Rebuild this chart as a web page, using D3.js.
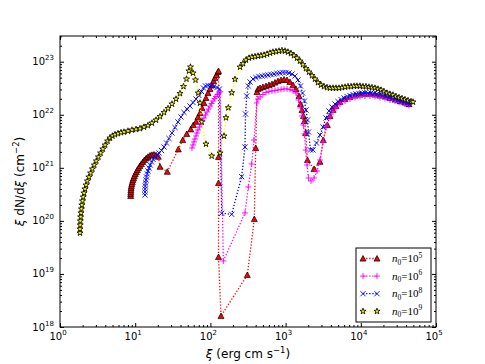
<!DOCTYPE html>
<html>
<head>
<meta charset="utf-8">
<script src="https://cdn.jsdelivr.net/npm/d3@7"></script>
<style>
  body { margin: 0; background: #fff; }
  svg { display: block; }
</style>
</head>
<body>
<svg id="chart" width="485" height="364"></svg>
<script>
// values are log10(xi) and log10(xi dN/dxi)
var n5LogXi = [0.940,0.940,0.942,0.943,0.945,0.949,0.955,0.961,0.969,0.979,0.989,1.001,1.015,1.029,1.045,1.062,1.081,1.101,1.122,1.145,1.170,1.197,1.223,1.250,1.277,1.307,1.330,1.427,1.573,1.632,1.685,1.738,1.773,1.809,1.835,1.862,1.888,1.915,1.941,1.968,1.995,2.021,2.041,2.061,2.081,2.101,2.108,2.108,2.108,2.108,2.141,2.491,2.584,2.602,2.620,2.633,2.660,2.699,2.739,2.779,2.819,2.859,2.899,2.939,2.979,3.019,3.058,3.098,3.138,3.178,3.198,3.218,3.238,3.251,3.267,3.291,3.378,3.457,3.501,3.555,3.590,3.630,3.670,3.723,3.790,3.856,3.923,3.989,4.056,4.122,4.189,4.255,4.322,4.388,4.455,4.521,4.588,4.641];
var n5LogN = [20.469,20.507,20.544,20.582,20.620,20.657,20.695,20.733,20.771,20.808,20.846,20.884,20.921,20.959,20.997,21.034,21.072,21.110,21.147,21.179,21.208,21.232,21.245,21.251,21.238,21.210,21.021,20.927,21.349,21.524,21.637,21.726,21.807,21.869,21.958,22.033,22.128,22.222,22.316,22.410,22.486,22.561,22.636,22.693,22.749,22.806,22.825,21.204,20.714,19.319,18.207,18.980,20.035,21.374,22.429,22.486,22.504,22.523,22.542,22.561,22.580,22.608,22.636,22.655,22.665,22.655,22.618,22.561,22.486,22.354,22.203,22.090,21.977,21.882,21.656,21.147,20.978,21.115,21.524,21.807,21.977,22.090,22.165,22.241,22.297,22.335,22.363,22.382,22.391,22.391,22.382,22.363,22.344,22.316,22.288,22.259,22.231,22.203];

var n6LogXi = [1.755,1.769,1.782,1.795,1.809,1.822,1.835,1.855,1.875,1.895,1.915,1.935,1.955,1.975,1.995,2.015,2.035,2.055,2.074,2.094,2.114,2.132,2.172,2.460,2.504,2.549,2.580,2.616,2.633,2.660,2.699,2.739,2.779,2.819,2.859,2.899,2.939,2.979,3.019,3.058,3.098,3.138,3.172,3.198,3.218,3.236,3.251,3.267,3.285,3.305,3.338,3.378,3.418,3.457,3.497,3.537,3.590,3.630,3.670,3.723,3.790,3.856,3.923,3.989,4.056,4.122,4.189,4.255,4.322,4.388,4.455,4.521,4.588,4.641];
var n6LogN = [21.374,21.430,21.487,21.543,21.600,21.656,21.713,21.769,21.826,21.882,21.939,21.996,22.052,22.108,22.165,22.212,22.259,22.307,22.344,22.382,22.410,22.429,19.244,20.149,20.639,21.072,21.524,22.222,22.297,22.335,22.382,22.420,22.438,22.448,22.457,22.467,22.476,22.486,22.486,22.476,22.457,22.410,22.278,22.128,21.977,21.807,21.637,21.336,21.053,20.808,20.752,20.808,20.940,21.147,21.487,21.788,21.958,22.052,22.128,22.203,22.259,22.297,22.325,22.344,22.354,22.354,22.344,22.325,22.307,22.278,22.259,22.231,22.203,22.175];

var n8LogXi = [1.130,1.130,1.132,1.134,1.138,1.144,1.150,1.160,1.170,1.184,1.199,1.218,1.239,1.263,1.290,1.316,1.350,1.383,1.416,1.449,1.489,1.529,1.569,1.609,1.649,1.689,1.729,1.769,1.809,1.848,1.882,1.908,1.935,1.968,2.008,2.048,2.088,2.121,2.150,2.283,2.416,2.460,2.467,2.483,2.504,2.527,2.567,2.606,2.646,2.686,2.726,2.766,2.806,2.846,2.886,2.926,2.965,3.005,3.045,3.085,3.125,3.165,3.198,3.225,3.251,3.271,3.291,3.305,3.331,3.364,3.411,3.457,3.497,3.537,3.577,3.617,3.657,3.697,3.737,3.777,3.817,3.856,3.896,3.936,3.976,4.016,4.056,4.096,4.136,4.176,4.215,4.255,4.295,4.335,4.375,4.415,4.455,4.495,4.535,4.575,4.614,4.648];
var n8LogN = [20.488,20.544,20.601,20.657,20.714,20.771,20.827,20.884,20.940,20.997,21.053,21.110,21.157,21.204,21.242,21.279,21.326,21.392,21.468,21.553,21.656,21.760,21.864,21.958,22.043,22.108,22.165,22.231,22.297,22.363,22.438,22.504,22.542,22.552,22.542,22.533,22.514,22.486,20.143,20.124,20.833,21.392,22.014,22.354,22.542,22.618,22.674,22.702,22.721,22.731,22.740,22.749,22.759,22.768,22.778,22.787,22.797,22.797,22.787,22.768,22.731,22.655,22.542,22.410,22.259,22.090,21.901,21.675,21.336,21.336,21.468,21.619,21.769,21.939,22.071,22.146,22.203,22.250,22.288,22.316,22.344,22.363,22.382,22.391,22.401,22.410,22.410,22.410,22.410,22.401,22.391,22.382,22.363,22.344,22.325,22.307,22.288,22.269,22.250,22.231,22.212,22.193];

var n9LogXi = [0.266,0.266,0.269,0.271,0.275,0.279,0.285,0.291,0.299,0.309,0.319,0.332,0.347,0.364,0.384,0.407,0.431,0.456,0.483,0.511,0.540,0.570,0.601,0.633,0.665,0.698,0.731,0.771,0.811,0.851,0.904,0.957,1.011,1.064,1.117,1.170,1.223,1.277,1.330,1.383,1.436,1.489,1.543,1.596,1.642,1.682,1.715,1.735,1.769,1.802,1.839,1.862,1.884,1.941,2.017,2.128,2.181,2.207,2.238,2.283,2.327,2.394,2.434,2.473,2.513,2.553,2.593,2.633,2.673,2.713,2.753,2.793,2.832,2.872,2.912,2.952,2.992,3.032,3.072,3.112,3.152,3.191,3.231,3.271,3.311,3.351,3.391,3.431,3.471,3.511,3.551,3.590,3.630,3.670,3.710,3.750,3.790,3.830,3.870,3.910,3.949,3.989,4.029,4.069,4.109,4.149,4.189,4.229,4.269,4.309,4.348,4.388,4.428,4.468,4.508,4.548,4.588,4.628,4.668,4.694];
var n9LogN = [19.772,19.847,19.922,19.998,20.073,20.149,20.224,20.299,20.375,20.450,20.525,20.601,20.676,20.752,20.827,20.902,20.978,21.053,21.129,21.204,21.279,21.355,21.430,21.505,21.562,21.600,21.628,21.647,21.666,21.675,21.694,21.713,21.726,21.741,21.769,21.798,21.845,21.901,21.967,22.043,22.118,22.203,22.297,22.401,22.533,22.674,22.825,22.900,22.787,22.655,22.410,22.222,21.864,21.449,21.223,21.279,21.600,21.945,22.133,22.416,22.668,22.900,22.966,23.032,23.070,23.089,23.098,23.108,23.117,23.126,23.145,23.164,23.183,23.192,23.202,23.211,23.202,23.183,23.155,23.117,23.070,23.013,22.947,22.872,22.806,22.740,22.674,22.608,22.561,22.533,22.514,22.504,22.504,22.504,22.504,22.514,22.523,22.533,22.533,22.542,22.542,22.542,22.533,22.533,22.523,22.514,22.504,22.486,22.467,22.438,22.410,22.391,22.373,22.344,22.325,22.307,22.288,22.269,22.250,22.241];

var xMajor = [1, 10, 100, 1000, 10000, 100000];
var yMajor = [1e18, 1e19, 1e20, 1e21, 1e22, 1e23];
var xExp = ["0", "1", "2", "3", "4", "5"];
var yExp = ["18", "19", "20", "21", "22", "23"];
var legendExp = ["5", "6", "8", "9"];

// Set the dimensions and margins of the graph
var margin = { top: 36, right: 49, bottom: 37, left: 60 };
var width = 485 - margin.left - margin.right;
var height = 364 - margin.top - margin.bottom;

var svg = d3.select("#chart")
  .append("g")
  .attr("transform", "translate(" + margin.left + "," + margin.top + ")");

var x = d3.scaleLog().domain([1, 1e5]).range([0, width]);
var y = d3.scaleLog().domain([1e18, 3.05e23]).range([height, 0]);

// minor ticks 2..9 per decade
var xMinor = [];
for (var d = 0; d < 5; d++) for (var m = 2; m < 10; m++) xMinor.push(m * Math.pow(10, d));
var yMinor = [];
for (var d = 18; d < 24; d++) for (var m = 2; m < 10; m++) {
  var v = m * Math.pow(10, d);
  if (v <= 3.05e23) yMinor.push(v);
}

function tickAxis(axis, vals, size, tr) {
  var g = svg.append("g").attr("transform", tr)
    .call(axis.tickValues(vals).tickSize(size).tickFormat(""));
  g.select(".domain").remove();
  g.selectAll("line").attr("stroke", "#000").attr("stroke-width", 1);
}
// ticks point inward on all four sides
tickAxis(d3.axisBottom(x), xMajor, -4, "translate(0," + height + ")");
tickAxis(d3.axisBottom(x), xMinor, -2, "translate(0," + height + ")");
tickAxis(d3.axisTop(x), xMajor, -4, "translate(0,0)");
tickAxis(d3.axisTop(x), xMinor, -2, "translate(0,0)");
tickAxis(d3.axisLeft(y), yMajor, -4, "translate(0,0)");
tickAxis(d3.axisLeft(y), yMinor, -2, "translate(0,0)");
tickAxis(d3.axisRight(y), yMajor, -4, "translate(" + width + ",0)");
tickAxis(d3.axisRight(y), yMinor, -2, "translate(" + width + ",0)");

// tick labels 10^n
xMajor.forEach(function (v, i) {
  var t = svg.append("text")
    .attr("x", x(v) - 2).attr("y", height + 13)
    .attr("text-anchor", "middle")
    .style("font-family", "DejaVu Sans").style("font-size", "10px");
  t.append("tspan").text("10");
  t.append("tspan").attr("dy", -5).style("font-size", "7px").text(xExp[i]);
});
yMajor.forEach(function (v, i) {
  var t = svg.append("text")
    .attr("x", -6).attr("y", y(v) + 3.5)
    .attr("text-anchor", "end")
    .style("font-family", "DejaVu Sans").style("font-size", "10px");
  t.append("tspan").text("10");
  t.append("tspan").attr("dy", -5).style("font-size", "7px").text(yExp[i]);
});

// axis labels
var xl = svg.append("text")
  .attr("x", width / 2).attr("y", height + 31)
  .attr("text-anchor", "middle")
  .style("font-family", "DejaVu Sans").style("font-size", "12px");
xl.append("tspan").style("font-style", "italic").text("ξ");
xl.append("tspan").text(" (erg cm s");
xl.append("tspan").attr("dy", -5).style("font-size", "8.5px").text("−1");
xl.append("tspan").attr("dy", 5).text(")");

var yl = svg.append("text")
  .attr("transform", "translate(-36," + (height / 2) + ") rotate(-90)")
  .attr("text-anchor", "middle")
  .style("font-family", "DejaVu Sans").style("font-size", "12px");
yl.append("tspan").style("font-style", "italic").text("ξ");
yl.append("tspan").text(" dN/d");
yl.append("tspan").style("font-style", "italic").text("ξ");
yl.append("tspan").text(" (cm");
yl.append("tspan").attr("dy", -5).style("font-size", "8.5px").text("−2");
yl.append("tspan").attr("dy", 5).text(")");

// marker shapes
function starPath(r) {
  var p = [];
  for (var k = 0; k < 10; k++) {
    var rr = k % 2 === 0 ? r : r * 0.382;
    var a = -Math.PI / 2 + k * Math.PI / 5;
    p.push([rr * Math.cos(a), rr * Math.sin(a)]);
  }
  return "M" + p.map(function (q) { return q[0].toFixed(2) + "," + q[1].toFixed(2); }).join("L") + "Z";
}
var shapes = {
  tri: "M0,-3L3,2.6L-3,2.6Z",
  plus: "M-3,0H3M0,-3V3",
  cross: "M-2.6,-2.6L2.6,2.6M-2.6,2.6L2.6,-2.6",
  star: starPath(3.2)
};

var series = [
  { lx: n5LogXi, ly: n5LogN, color: "#ff0000", shape: "tri", fill: "#ff0000", edge: "#000", ew: 0.7 },
  { lx: n6LogXi, ly: n6LogN, color: "#ff00ff", shape: "plus", fill: "none", edge: "#ff00ff", ew: 0.9 },
  { lx: n8LogXi, ly: n8LogN, color: "#0000ff", shape: "cross", fill: "none", edge: "#0000ff", ew: 0.9 },
  { lx: n9LogXi, ly: n9LogN, color: "#ffff00", shape: "star", fill: "#ffff00", edge: "#000", ew: 0.8 }
];

var line = d3.line()
  .x(function (d) { return x(d[0]); })
  .y(function (d) { return y(d[1]); });

function drawMarker(g, s, px, py) {
  g.append("path")
    .attr("d", shapes[s.shape])
    .attr("transform", "translate(" + px + "," + py + ")")
    .attr("fill", s.fill)
    .attr("stroke", s.edge)
    .attr("stroke-width", s.ew);
}

series.forEach(function (s) {
  var n = Math.min(s.lx.length, s.ly.length);
  var pts = [];
  for (var i = 0; i < n; i++) pts.push([Math.pow(10, s.lx[i]), Math.pow(10, s.ly[i])]);
  var g = svg.append("g");
  g.append("path")
    .datum(pts)
    .attr("d", line)
    .attr("fill", "none")
    .attr("stroke", s.color)
    .attr("stroke-width", 1.3)
    .attr("stroke-dasharray", "1.3,1.8");
  pts.forEach(function (p) { drawMarker(g, s, x(p[0]), y(p[1])); });
});

// frame
svg.append("rect")
  .attr("width", width).attr("height", height)
  .attr("fill", "none").attr("stroke", "#000").attr("stroke-width", 1);

// legend
var lg = svg.append("g").attr("transform", "translate(" + (356 - margin.left) + "," + (248 - margin.top) + ")");
lg.append("rect").attr("width", 75).attr("height", 74)
  .attr("fill", "#fff").attr("stroke", "#000").attr("stroke-width", 1);
series.forEach(function (s, i) {
  var ry = 10.5 + i * 17.6;
  lg.append("line")
    .attr("x1", 7).attr("x2", 21).attr("y1", ry).attr("y2", ry)
    .attr("stroke", s.color).attr("stroke-width", 1.3)
    .attr("stroke-dasharray", "1.3,1.8");
  drawMarker(lg, s, 7, ry);
  drawMarker(lg, s, 21, ry);
  var t = lg.append("text")
    .attr("x", 36).attr("y", ry + 3.5)
    .style("font-family", "Liberation Serif").style("font-size", "11px");
  t.append("tspan").style("font-style", "italic").text("n");
  t.append("tspan").attr("dy", 2.5).style("font-size", "7.5px").text("0");
  t.append("tspan").attr("dy", -2.5).text("=10");
  t.append("tspan").attr("dy", -4.5).style("font-size", "7.5px").text(legendExp[i]);
});
</script>
</body>
</html>
